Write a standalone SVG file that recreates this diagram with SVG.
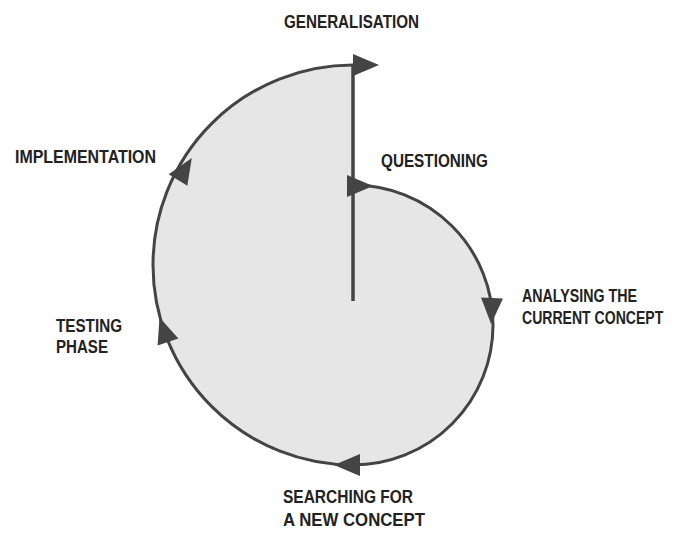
<svg xmlns="http://www.w3.org/2000/svg" width="675" height="537" viewBox="0 0 675 537">
<defs>
<style>
.lbl{font-family:"Liberation Sans","Arial",sans-serif;font-weight:bold;font-size:19px;fill:#222}
.sp{fill:none;stroke:#444;stroke-width:3}
.ah{fill:#444}
</style>
<polygon id="head" points="0,-11 26,0 0,11"/>
</defs>
<rect width="675" height="537" fill="#fff"/>
<path d="M353,185 A140,140 0 0 1 353,465 A200,200 0 0 1 353,65 Z" fill="#e6e6e6"/>
<g id="connectors">
<path class="sp" d="M353,185 A140,140 0 0 1 353,465 A200,200 0 0 1 353,65"/>
<line x1="353" y1="65" x2="353" y2="301" stroke="#444" stroke-width="3.5"/>
<use href="#head" class="ah" transform="translate(353,65)"/>
<use href="#head" class="ah" transform="translate(347,186)"/>
<use href="#head" class="ah" transform="translate(492,298) rotate(92)"/>
<use href="#head" class="ah" transform="translate(360,465) rotate(180)"/>
<use href="#head" class="ah" transform="translate(168,342) rotate(-109)"/>
<use href="#head" class="ah" transform="translate(178,180) rotate(-58)"/>
</g>
<g id="generalisation"><text class="lbl" x="284" y="28" textLength="135" lengthAdjust="spacingAndGlyphs">GENERALISATION</text></g>
<g id="questioning"><text class="lbl" x="381" y="167" textLength="107" lengthAdjust="spacingAndGlyphs">QUESTIONING</text></g>
<g id="analysing"><text class="lbl" x="522" y="302" textLength="115" lengthAdjust="spacingAndGlyphs">ANALYSING THE</text><text class="lbl" transform="translate(522,324) scale(0.74,1)">CURRENT CONCEPT</text></g>
<g id="searching"><text class="lbl" x="283" y="503" textLength="130" lengthAdjust="spacingAndGlyphs">SEARCHING FOR</text><text class="lbl" x="283" y="526" textLength="142" lengthAdjust="spacingAndGlyphs">A NEW CONCEPT</text></g>
<g id="testing"><text class="lbl" x="56" y="332" textLength="66" lengthAdjust="spacingAndGlyphs">TESTING</text><text class="lbl" x="56" y="353" textLength="52" lengthAdjust="spacingAndGlyphs">PHASE</text></g>
<g id="implementation"><text class="lbl" x="15" y="163" textLength="141" lengthAdjust="spacingAndGlyphs">IMPLEMENTATION</text></g>
</svg>
